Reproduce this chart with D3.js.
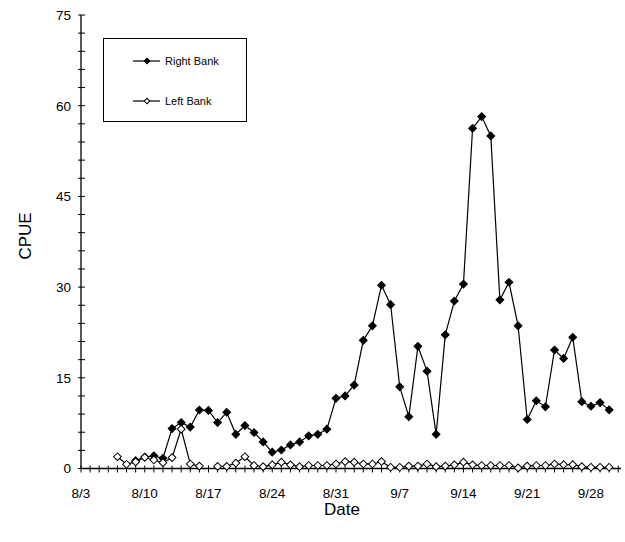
<!DOCTYPE html>
<html><head><meta charset="utf-8">
<script src="https://cdn.jsdelivr.net/npm/d3@7"></script>
<style>body{margin:0;background:#fff}svg{display:block}text{font-family:"Liberation Sans",Arial,sans-serif}</style>
</head><body><svg id="c" width="625" height="542"></svg>
<script>
// Dates (month/day) and values
const rightDates = ["8/9","8/10","8/11","8/12","8/13","8/14","8/15","8/16","8/17","8/18","8/19","8/20","8/21","8/22","8/23","8/24","8/25","8/26","8/27","8/28","8/29","8/30","8/31","9/1","9/2","9/3","9/4","9/5","9/6","9/7","9/8","9/9","9/10","9/11","9/12","9/13","9/14","9/15","9/16","9/17","9/18","9/19","9/20","9/21","9/22","9/23","9/24","9/25","9/26","9/27","9/28","9/29","9/30"];
const rightBank = [1.3,1.9,2.1,1.7,6.6,7.6,6.85,9.67,9.6,7.6,9.3,5.65,7.1,5.95,4.4,2.7,3.06,3.9,4.4,5.4,5.65,6.5,11.6,12.0,13.8,21.2,23.6,30.3,27.1,13.5,8.57,20.2,16.1,5.65,22.1,27.7,30.5,56.25,58.2,55.0,27.9,30.8,23.6,8.1,11.2,10.2,19.6,18.2,21.7,11.05,10.3,10.9,9.7];
const leftDates = ["8/7","8/8","8/9","8/10","8/11","8/12","8/13","8/14","8/15","8/16","8/17","8/18","8/19","8/20","8/21","8/22","8/23","8/24","8/25","8/26","8/27","8/28","8/29","8/30","8/31","9/1","9/2","9/3","9/4","9/5","9/6","9/7","9/8","9/9","9/10","9/11","9/12","9/13","9/14","9/15","9/16","9/17","9/18","9/19","9/20","9/21","9/22","9/23","9/24","9/25","9/26","9/27","9/28","9/29","9/30"];
const leftBank = [1.95,0.7,1.1,1.85,1.4,0.96,1.8,6.5,0.75,0.4,null,0.35,0.35,0.9,1.95,0.5,0.3,0.6,1.05,0.6,0.3,0.5,0.5,0.5,0.75,1.15,1.05,0.75,0.75,1.15,0.2,0.2,0.4,0.4,0.75,0.3,0.4,0.6,1.05,0.6,0.5,0.5,0.5,0.5,0.1,0.4,0.5,0.5,0.75,0.63,0.63,0.3,0.2,0.2,0.2];
const xTickLabels = ["8/3","8/10","8/17","8/24","8/31","9/7","9/14","9/21","9/28"];
const yTicks = [0,15,30,45,60,75];

const parse = s => { const [m,d] = s.split("/").map(Number); return new Date(Date.UTC(2000, m-1, d)); };
const DAY = 864e5;
const start = parse("8/3");
const svg = d3.select("#c");
const L = 81, R = 621, T = 15, B = 468.5;
const x = d3.scaleUtc().domain([start, new Date(+start + 59.3*DAY)]).range([L, R]);
const y = d3.scaleLinear().domain([0, 75]).range([B, T]);

// Y axis
const gy = svg.append("g");
gy.append("line").attr("x1",L).attr("x2",L).attr("y1",T).attr("y2",B).attr("stroke","#000").attr("stroke-width",1.3);
d3.range(0, 76, 3).forEach(v => {
  gy.append("line").attr("x1",L-3).attr("x2",L+4).attr("y1",y(v)).attr("y2",y(v)).attr("stroke","#000").attr("stroke-width",1);
});
yTicks.forEach(v => {
  gy.append("text").attr("x",L-10).attr("y",y(v)).attr("dy","0.36em").attr("text-anchor","end").attr("font-size",13.5).text(v);
});
// X axis
const gx = svg.append("g");
gx.append("line").attr("x1",L).attr("x2",R).attr("y1",B).attr("y2",B).attr("stroke","#000").attr("stroke-width",1.3);
d3.range(0, 60).forEach(i => {
  const xx = x(new Date(+start + i*DAY));
  gx.append("line").attr("x1",xx).attr("x2",xx).attr("y1",B-3).attr("y2",B+4).attr("stroke","#000").attr("stroke-width",1);
});
xTickLabels.forEach(s => {
  gx.append("text").attr("x",x(parse(s))).attr("y",B+29).attr("text-anchor","middle").attr("font-size",13.5).text(s);
});
svg.append("text").attr("x",342).attr("y",515).attr("text-anchor","middle").attr("font-size",17).text("Date");
svg.append("text").attr("transform","translate(31,236) rotate(-90)").attr("text-anchor","middle").attr("font-size",17).text("CPUE");

const diamond = d3.symbol().type(d3.symbolSquare).size(30);
function series(dates, vals, fill) {
  const data = dates.map((d,i) => ({d: parse(d), v: vals[i]}));
  const line = d3.line().defined(p => p.v != null).x(p => x(p.d)).y(p => y(p.v));
  svg.append("path").datum(data).attr("d", line).attr("fill","none").attr("stroke","#000").attr("stroke-width",1.2);
  svg.append("g").selectAll("path").data(data.filter(p => p.v != null)).join("path")
    .attr("d", diamond).attr("transform", p => `translate(${x(p.d)},${y(p.v)}) rotate(45)`)
    .attr("fill", fill).attr("stroke","#000").attr("stroke-width",1);
}
series(rightDates, rightBank, "#000");
series(leftDates, leftBank, "#fff");

// Legend
const lg = svg.append("g");
lg.append("rect").attr("x",103.5).attr("y",38.5).attr("width",143).attr("height",83).attr("fill","#fff").attr("stroke","#000").attr("stroke-width",1);
[["Right Bank","#000",61],["Left Bank","#fff",101]].forEach(([t,f,yy]) => {
  lg.append("line").attr("x1",133).attr("x2",160).attr("y1",yy).attr("y2",yy).attr("stroke","#000").attr("stroke-width",1.2);
  lg.append("path").attr("d", d3.symbol().type(d3.symbolSquare).size(16)).attr("transform",`translate(147,${yy}) rotate(45)`).attr("fill",f).attr("stroke","#000").attr("stroke-width",1);
  lg.append("text").attr("x",165).attr("y",yy).attr("dy","0.36em").attr("font-size",11).text(t);
});
</script></body></html>
